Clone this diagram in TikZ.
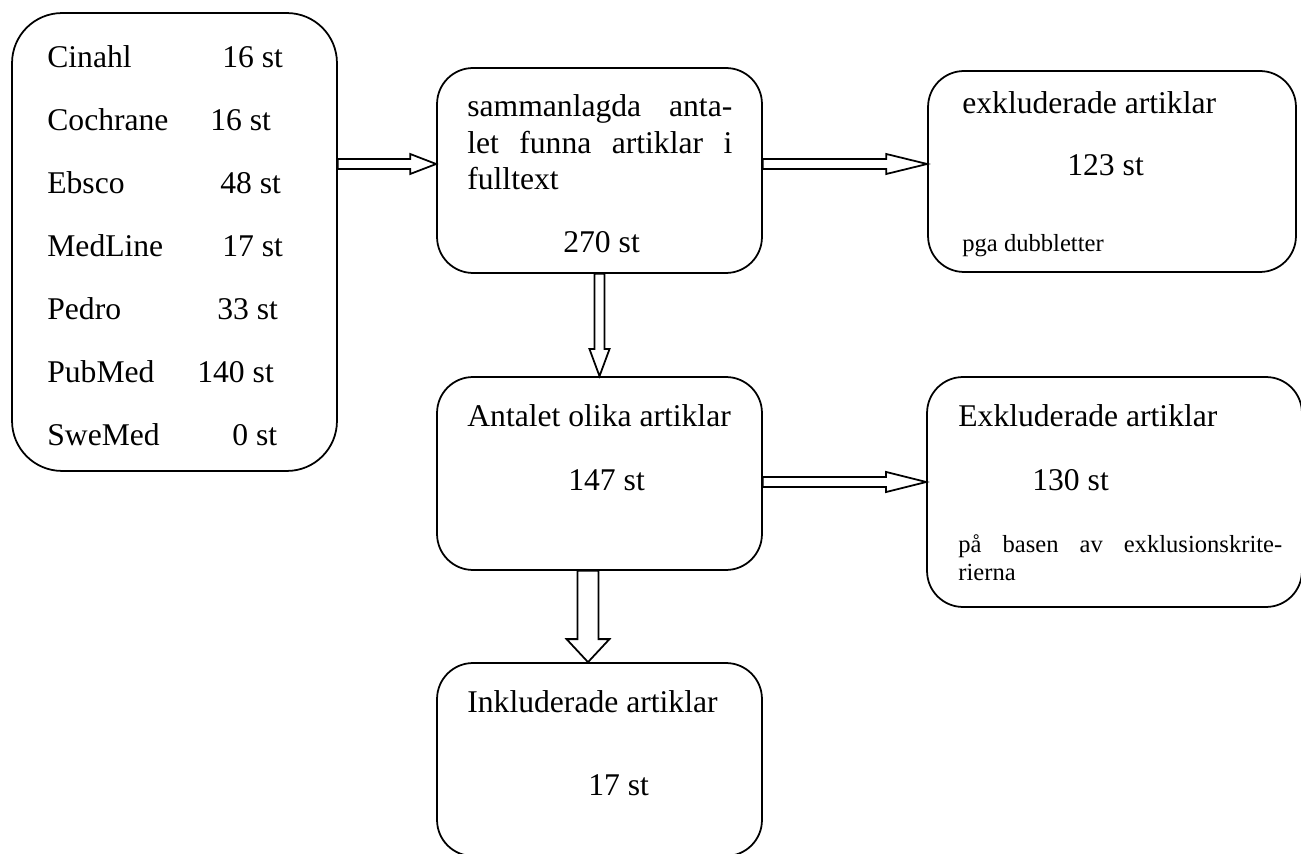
\documentclass[tikz,border=0pt]{standalone}
\usepackage{fontspec}
\setmainfont{Liberation Serif}
\usetikzlibrary{calc}
\newcommand{\BlockArrow}[5]{%
  \coordinate (ba-h) at ($(#2)!#5!(#1)$);%
  \draw[arrowline] ($(#1)!#3!90:(#2)$) -- ($(ba-h)!#3!90:(#2)$) -- ($(ba-h)!#4!90:(#2)$) -- (#2)
    -- ($(ba-h)!#4!-90:(#2)$) -- ($(ba-h)!#3!-90:(#2)$) -- ($(#1)!#3!-90:(#2)$) -- cycle;%
}
\tikzset{
  box/.style={draw,line width=1pt,rounded corners=0.72cm,minimum width=6.5cm},
  boxtext/.style={anchor=base west,inner sep=0pt,font=\fontsize{18}{20.5}\selectfont},
  smalltext/.style={boxtext,font=\fontsize{14}{16}\selectfont},
  arrowline/.style={line width=1pt,line join=miter}
}

\begin{document}
\begin{tikzpicture}[x=0.02cm,y=-0.02cm]
\clip (0,0) rectangle (1301,854);
% boxes
\node[box,rounded corners=1cm,minimum height=9.16cm] (db) at (174.5,242) {};
\node[box,minimum height=4.1cm] (sum) at (599.5,170.5) {};
\node[box,minimum width=7.36cm,minimum height=4.02cm] (dup) at (1112,171.5) {};
\node[box,minimum height=3.86cm] (diff) at (599.5,473.5) {};
\node[box,minimum width=7.5cm,minimum height=4.6cm] (excl) at (1114.5,492) {};
\node[box,minimum height=3.86cm] (incl) at (599.5,759.5) {};
% databaser
\foreach \i/\db/\n/\nx/\y in {1/Cinahl/16/222/68, 2/Cochrane/16/210/131, 3/Ebsco/48/220/194,
    4/MedLine/17/222/257, 5/Pedro/33/217/320, 6/PubMed/140/197/383, 7/SweMed/0/232/446} {
  \node[boxtext] (dbname\i) at (47,\y) {\db};
  \node[boxtext] (dbnum\i) at (\nx,\y) {\n~st};
}
% texter
\node[boxtext,text width=5.3cm,align=left] (sumtext) at (467,117)
  {sammanlagda\hfill anta-\\let\hfill funna\hfill artiklar\hfill i\\fulltext};
\node[boxtext] (sumnum) at (563,253) {270 st};
\node[boxtext] (duptext) at (962,114) {exkluderade artiklar};
\node[boxtext] (dupnum) at (1067,176) {123 st};
\node[smalltext] (dupnote) at (962,252) {pga dubbletter};
\node[boxtext] (difftext) at (467,427) {Antalet olika artiklar};
\node[boxtext] (diffnum) at (568,491) {147 st};
\node[boxtext] (excltext) at (958,427) {Exkluderade artiklar};
\node[boxtext] (exclnum) at (1032,491) {130 st};
\node[smalltext,text width=6.48cm,align=left] (exclnote) at (958,552)
  {på\hfill basen\hfill av\hfill exklusionskrite-\\rierna};
\node[boxtext] (incltext) at (467,712) {Inkluderade artiklar};
\node[boxtext] (inclnum) at (588,795) {17 st};
% pilar
\coordinate (a1s) at ($(db.east |- sum.west)+(0,-6.5)$);
\coordinate (a1e) at (sum.west |- a1s);
\BlockArrow{a1s}{a1e}{2.85pt}{5.7pt}{14.8pt}
\coordinate (a2s) at ($(sum.east)+(0,-6.5)$);
\coordinate (a2e) at (dup.west |- a2s);
\BlockArrow{a2s}{a2e}{2.85pt}{5.7pt}{23.3pt}
\coordinate (a3s) at (sum.south);
\coordinate (a3e) at (diff.north);
\BlockArrow{a3s}{a3e}{2.85pt}{5.7pt}{15.4pt}
\coordinate (a4s) at ($(diff.east)+(0,8.5)$);
\coordinate (a4e) at (excl.west |- a4s);
\BlockArrow{a4s}{a4e}{2.85pt}{5.7pt}{22.8pt}
\coordinate (a5s) at ($(diff.south)+(-11.5,0)$);
\coordinate (a5e) at (incl.north -| a5s);
\BlockArrow{a5s}{a5e}{6pt}{12.2pt}{13.1pt}
\end{tikzpicture}
\end{document}
